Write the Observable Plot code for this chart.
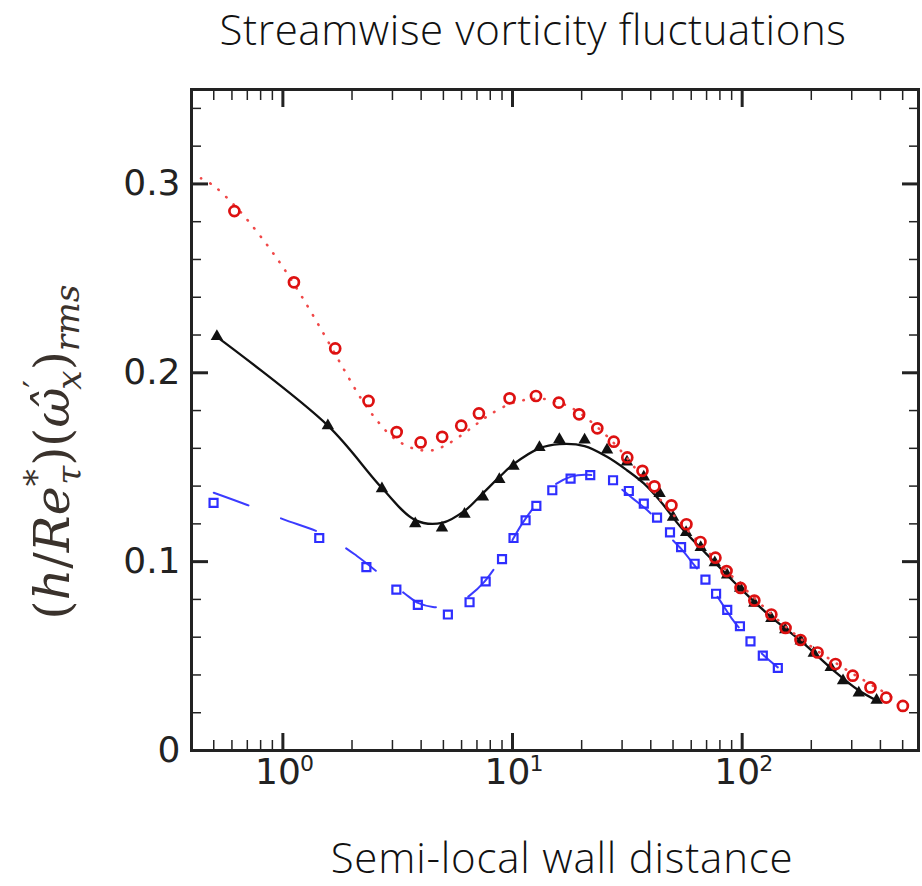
<!DOCTYPE html>
<html>
<head>
<meta charset="utf-8">
<script src="https://cdn.jsdelivr.net/npm/d3@7"></script>
<script src="https://cdn.jsdelivr.net/npm/@observablehq/plot@0.6"></script>
<style>
  html, body { margin: 0; padding: 0; background: white; overflow: hidden; }
  #wrap { width: 922px; height: 886px; position: relative; }
  .ttl, .xl { position: relative; height: 56px; }
  .ttl span, .xl span { position: absolute; transform: translateX(-50%); white-space: nowrap;
    font-family: "Open Sans", sans-serif; font-weight: 300; font-size: 42px; line-height: normal; color: #111; }
  .ttl span { left: 533px; top: 0; letter-spacing: 0.6px; }
  .xl span { left: 562px; top: -2px; letter-spacing: 0.8px; }
  #chart svg { display: block; }
</style>
</head>
<body>
<div id="wrap">
  <div class="ttl"><span>Streamwise vorticity fluctuations</span></div>
  <div id="chart"></div>
  <div class="xl"><span>Semi-local wall distance</span></div>
</div>
<script>
// ---- Data ----
// Red open circles (markers) and red dotted curve
const redX = [0.615, 1.117, 1.69, 2.36, 3.13, 3.98, 4.94, 5.98, 7.14, 9.71, 12.65, 15.9, 19.5, 23.4, 27.6, 31.6, 36.8, 41.5, 49.2, 57.2, 65.8, 76.5, 85.5, 98.4, 113, 134, 154.5, 179.5, 213, 255, 303, 362, 424, 501];
const redY = [0.2856, 0.2479, 0.2129, 0.1851, 0.1686, 0.1631, 0.1661, 0.1720, 0.1785, 0.1865, 0.1877, 0.1842, 0.1780, 0.1706, 0.1635, 0.1552, 0.1481, 0.1399, 0.1298, 0.1198, 0.1104, 0.1021, 0.0950, 0.0861, 0.0794, 0.0720, 0.0649, 0.0585, 0.0519, 0.0458, 0.0396, 0.0334, 0.0280, 0.0236];
const redLineX = [0.44, 0.5, 0.6, 0.7, 0.85, 1.0, 1.2, 1.5, 1.8, 2.2, 2.6, 3.0, 3.5, 4.0, 4.5, 5.0, 6.0, 7.0, 8.0, 10, 12, 14, 17, 20, 25, 30, 40, 50, 70, 100, 150, 200, 300, 400, 480];
const redLineY = [0.303, 0.299, 0.290, 0.281, 0.268, 0.256, 0.241, 0.221, 0.204, 0.186, 0.174, 0.166, 0.161, 0.159, 0.159, 0.161, 0.167, 0.173, 0.178, 0.184, 0.186, 0.186, 0.183, 0.178, 0.168, 0.158, 0.139, 0.125, 0.106, 0.087, 0.067, 0.055, 0.041, 0.032, 0.026];

// Black filled triangles and solid black curve
const blackX = [0.516, 1.57, 2.7, 3.77, 4.93, 6.18, 7.43, 8.76, 10.1, 13.1, 16.0, 20.6, 25.8, 31.5, 37.3, 43.7, 50, 57, 66, 76, 86, 98, 113, 134, 154, 180, 205, 243, 275, 322, 385];
const blackY = [0.2192, 0.1720, 0.1387, 0.1201, 0.1178, 0.1251, 0.1343, 0.1435, 0.1506, 0.1605, 0.1647, 0.1644, 0.1591, 0.1528, 0.1449, 0.1361, 0.1235, 0.1155, 0.1075, 0.0995, 0.0930, 0.0860, 0.0780, 0.0700, 0.0640, 0.0580, 0.0515, 0.0440, 0.0370, 0.0305, 0.0267];
const blackLineX = [0.516, 1.57, 2.7, 3.77, 4.93, 6.2, 7.4, 8.8, 10.1, 13.1, 16, 20.6, 25.8, 31.5, 37.3, 43.7, 54, 70, 98, 130, 180, 251, 320, 387];
const blackLineY = [0.219, 0.172, 0.139, 0.122, 0.1205, 0.127, 0.136, 0.145, 0.1516, 0.160, 0.1622, 0.1612, 0.1555, 0.1484, 0.1414, 0.1325, 0.1183, 0.104, 0.086, 0.072, 0.058, 0.0422, 0.032, 0.0263];

// Blue open squares and long-dashed blue curve
const blueX = [0.499, 1.44, 2.31, 3.12, 3.87, 5.23, 6.50, 7.64, 9.0, 10.1, 11.4, 12.7, 14.9, 17.9, 21.8, 27.4, 32.1, 37.3, 42.6, 48.5, 54.2, 62.1, 69.2, 77.0, 86.1, 97.8, 108.7, 123, 143];
const blueY = [0.1311, 0.1125, 0.0971, 0.0852, 0.0771, 0.0720, 0.0785, 0.0895, 0.1013, 0.1125, 0.1219, 0.1295, 0.1378, 0.1440, 0.1458, 0.1431, 0.1374, 0.1307, 0.1233, 0.1155, 0.1077, 0.0989, 0.0905, 0.0830, 0.0745, 0.0658, 0.0578, 0.0502, 0.0437];
const blueLineX = [0.5, 0.7, 1.0, 1.5, 2.1, 2.8, 3.4, 3.9, 4.5, 5.5, 6.5, 7.5, 9.4, 11, 13, 15, 18, 21, 25, 28, 33, 40, 48, 55, 62, 70, 80, 90, 100, 110, 125, 143];
const blueLineY = [0.1365, 0.130, 0.1225, 0.1145, 0.103, 0.091, 0.083, 0.078, 0.076, 0.0765, 0.082, 0.089, 0.106, 0.120, 0.132, 0.140, 0.145, 0.146, 0.1445, 0.141, 0.134, 0.1255, 0.1135, 0.106, 0.098, 0.090, 0.0795, 0.070, 0.063, 0.057, 0.050, 0.044];

// Ticks
const yMajor = [0, 0.1, 0.2, 0.3];
const yMinor = [0.02, 0.04, 0.06, 0.08, 0.12, 0.14, 0.16, 0.18, 0.22, 0.24, 0.26, 0.28, 0.32, 0.34];
const xMajor = [1, 10, 100];
const xExponents = ["0", "1", "2"];
const xMinor = [0.5, 0.6, 0.7, 0.8, 0.9, 2, 3, 4, 5, 6, 7, 8, 9, 20, 30, 40, 50, 60, 70, 80, 90, 200, 300, 400, 500];

const zip = (xs, ys) => xs.map((x, i) => ({x, y: ys[i]}));
const red = zip(redX, redY), redLine = zip(redLineX, redLineY);
const black = zip(blackX, blackY), blackLine = zip(blackLineX, blackLineY);
const blue = zip(blueX, blueY), blueLine = zip(blueLineX, blueLineY);

const axisColor = "#222";
const chart = Plot.plot({
  width: 922,
  height: 774,
  marginTop: 33,
  marginRight: 4,
  marginBottom: 80,
  marginLeft: 191,
  style: {fontFamily: "DejaVu Sans", color: axisColor, background: "white", overflow: "visible"},
  x: {type: "log", domain: [0.4, 586]},
  y: {domain: [0, 0.35]},
  marks: [
    // data
    Plot.line(blueLine, {x: "x", y: "y", stroke: "#3b3bff", strokeWidth: 2, strokeDasharray: "37,35", curve: "catmull-rom"}),
    Plot.dot(blue, {x: "x", y: "y", symbol: "square", r: 4.5, stroke: "#2e2eff", strokeWidth: 2.2, fill: "none"}),
    Plot.line(blackLine, {x: "x", y: "y", stroke: "#111", strokeWidth: 2.3, curve: "catmull-rom"}),
    Plot.dot(black, {x: "x", y: "y", symbol: "triangle", r: 4.6, fill: "#111", stroke: "none"}),
    Plot.line(redLine, {x: "x", y: "y", stroke: "#f04848", strokeWidth: 2.6, strokeDasharray: "0.5,10", strokeLinecap: "round", curve: "catmull-rom"}),
    Plot.dot(red, {x: "x", y: "y", r: 5, stroke: "#dd1111", strokeWidth: 2.7, fill: "none"}),
    // axes: inward ticks on all sides
    Plot.axisY(yMinor, {anchor: "left", tickSize: -10, text: null, label: null, strokeWidth: 1.5}),
    Plot.axisY(yMinor, {anchor: "right", tickSize: -10, text: null, label: null, strokeWidth: 1.5}),
    Plot.axisY(yMajor, {anchor: "left", tickSize: -17, tickPadding: 28, fontSize: 36, label: null, strokeWidth: 3,
      tickFormat: d => d === 0 ? "0" : d.toFixed(1)}),
    Plot.axisY(yMajor, {anchor: "right", tickSize: -17, text: null, label: null, strokeWidth: 3}),
    Plot.axisX(xMinor, {anchor: "bottom", tickSize: -10, text: null, label: null, strokeWidth: 1.5}),
    Plot.axisX(xMinor, {anchor: "top", tickSize: -10, text: null, label: null, strokeWidth: 1.5}),
    Plot.axisX(xMajor, {anchor: "bottom", tickSize: -17, text: null, label: null, strokeWidth: 3}),
    Plot.axisX(xMajor, {anchor: "top", tickSize: -17, text: null, label: null, strokeWidth: 3}),
    Plot.text(xMajor, {x: d => d, frameAnchor: "bottom", text: () => "10", dy: 33, dx: -5, fontSize: 36, fill: axisColor}),
    Plot.text(xMajor, {x: d => d, frameAnchor: "bottom", text: (d, i) => xExponents[i], dy: 20, dx: 24, fontSize: 22, fill: axisColor}),
    Plot.frame({stroke: axisColor, strokeWidth: 3})
  ]
});
document.getElementById("chart").appendChild(chart);

// Y-axis label as math-like rich text
const F = 49, s = 0.7 * F;
const lab = d3.select(chart).append("text")
  .attr("transform", "translate(69,396) rotate(-90)")
  .attr("text-anchor", "middle")
  .attr("font-family", "DejaVu Serif")
  .attr("font-size", F)
  .attr("fill", "#3a322c");
const parts = [
  {t: "(", it: false},
  {t: "h", it: true},
  {t: "/", it: false},
  {t: "Re", it: true},
  {t: "*", it: false, size: s, dy: -0.42 * F},
  {t: "τ", it: true, size: s, dx: -0.32 * F, dy: 0.67 * F},
  {t: ")(", it: false, dy: -0.25 * F},
  {t: "ω\u0302", it: true},
  {t: "′", it: false, size: s, dy: -0.42 * F},
  {t: "x", it: true, size: s, dx: -0.2 * F, dy: 0.67 * F},
  {t: ")", it: false, dy: -0.25 * F},
  {t: "rms", it: true, size: s, dy: 0.2 * F}
];
for (const p of parts) {
  const ts = lab.append("tspan").text(p.t).attr("font-style", p.it ? "italic" : "normal");
  if (p.size) ts.attr("font-size", p.size);
  if (p.dx) ts.attr("dx", p.dx);
  if (p.dy) ts.attr("dy", p.dy);
}
</script>
</body>
</html>
